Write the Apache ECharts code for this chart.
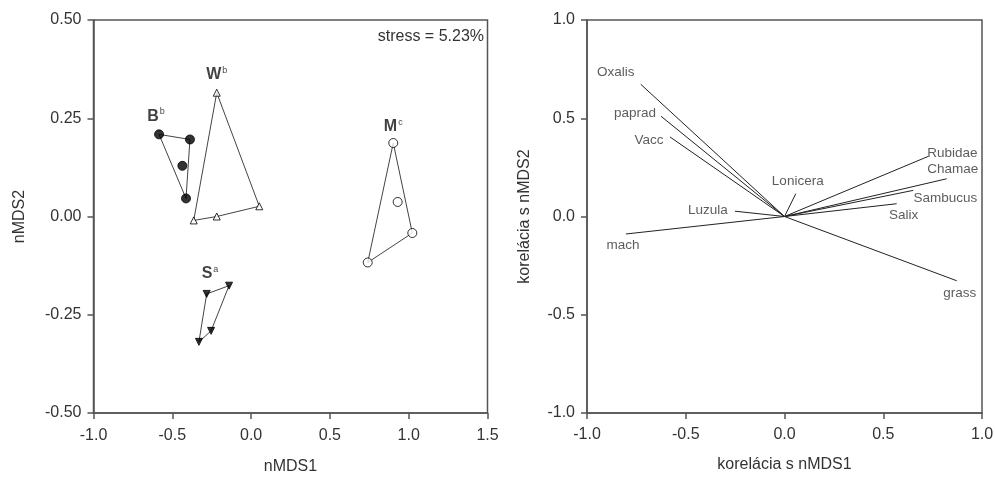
<!DOCTYPE html>
<html><head><meta charset="utf-8">
<script src="https://cdn.jsdelivr.net/npm/echarts@6/dist/echarts.min.js"></script>
<style>html,body{margin:0;padding:0;background:#fff}#c{width:995px;height:477px}</style>
</head><body><div id="c"></div>
<script>
// ---- nMDS ordination (left panel) ----
const groupB = [[-0.584,0.209],[-0.388,0.196],[-0.436,0.129],[-0.413,0.046]];
const hullB = [0,1,3];
const groupW = [[-0.218,0.315],[-0.364,-0.010],[-0.218,0.000],[0.052,0.026]];
const hullW = [0,3,2,1];
const groupM = [[0.902,0.187],[0.930,0.037],[1.023,-0.042],[0.740,-0.117]];
const hullM = [0,2,3];
const groupS = [[-0.282,-0.197],[-0.140,-0.176],[-0.254,-0.291],[-0.331,-0.319]];
const hullS = [0,1,2,3];
const groupNames = ['B','W','M','S'];
const groupLetters = ['b','b','c','a'];
const stressText = 'stress = 5.23%';

// ---- species correlations (right panel) ----
const species = ['Oxalis','paprad','Vacc','Luzula','mach','Lonicera','Rubidae','Chamae','Sambucus','Salix','grass'];
const corr1 = [-0.728,-0.625,-0.580,-0.251,-0.803,0.057,0.728,0.821,0.652,0.568,0.872];
const corr2 = [0.673,0.510,0.405,0.027,-0.089,0.116,0.306,0.192,0.133,0.065,-0.327];

// ---- axes ----
const leftX = {min:-1.0, max:1.5, interval:0.5, name:'nMDS1'};
const leftY = {min:-0.5, max:0.5, interval:0.25, name:'nMDS2'};
const rightX = {min:-1.0, max:1.0, interval:0.5, name:'korelácia s nMDS1'};
const rightY = {min:-1.0, max:1.0, interval:0.5, name:'korelácia s nMDS2'};

// ---- styles ----
const FONT = '"Liberation Sans", Arial, sans-serif';
const AX = '#555';
const TXT = '#333';
const groupStyle = {
  B:{symbol:'circle', size:9, fill:'#000', rotate:0, labelPos:[-3,-18]},
  W:{symbol:'triangle', size:7, fill:'#fff', rotate:0, labelPos:[0,-18]},
  M:{symbol:'circle', size:9, fill:'#fff', rotate:0, labelPos:[0,-16]},
  S:{symbol:'triangle', size:7, fill:'#000', rotate:180, labelPos:[-19,-12]}
};
// label centre relative to vector tip (px)
const speciesLabelPos = {
  Oxalis:[-25,-12], paprad:[-26,-3], Vacc:[-21,3], Luzula:[-27,-1], mach:[-3,11],
  Lonicera:[2,-12], Rubidae:[24,-3], Chamae:[6,-9], Sambucus:[32,8], Salix:[7,12], grass:[3,13]
};

function mkAxis(a, idx, dir, dec, nameGap, margin){
  return {
    type:'value', gridIndex:idx, min:a.min, max:a.max, interval:a.interval,
    name:a.name, nameLocation:'middle', nameGap:nameGap,
    nameTextStyle:{color:TXT, fontSize:16, fontFamily:FONT},
    axisLine:{show:true, onZero:false, lineStyle:{color:AX, width:1.5}},
    axisTick:{show:true, inside:false, length:6, lineStyle:{color:AX, width:1.5}},
    axisLabel:{color:TXT, fontSize:16, fontFamily:FONT, margin:margin,
      formatter:v=>v.toFixed(dec)},
    splitLine:{show:false}
  };
}

const series = [];
const groups = [groupB, groupW, groupM, groupS];
const hulls = [hullB, hullW, hullM, hullS];
groups.forEach((pts, gi)=>{
  const hull = hulls[gi];
  const poly = hull.map(i=>pts[i]).concat([pts[hull[0]]]);
  series.push({type:'line', xAxisIndex:0, yAxisIndex:0, data:poly, symbol:'none',
    lineStyle:{color:'#444', width:1}, silent:true, z:2, animation:false});
  const st = groupStyle[groupNames[gi]];
  series.push({type:'scatter', xAxisIndex:0, yAxisIndex:0, data:pts, symbol:st.symbol,
    symbolSize:st.size, symbolRotate:st.rotate, z:3, animation:false,
    itemStyle:{color:st.fill, borderColor:'#000', borderWidth:1}});
  let top = 0; pts.forEach((p,i)=>{ if(p[1]>pts[top][1]) top=i; });
  series.push({type:'scatter', xAxisIndex:0, yAxisIndex:0, data:[pts[top]], symbolSize:0, z:4,
    animation:false,
    label:{show:true, position:st.labelPos, align:'center', verticalAlign:'middle',
      formatter:'{m|'+groupNames[gi]+'}{s|'+groupLetters[gi]+'}',
      rich:{m:{fontSize:16, fontWeight:'bold', color:'#111', fontFamily:FONT},
            s:{fontSize:9, color:'#111', fontFamily:FONT, verticalAlign:'top', padding:[0,0,9,1]}}}});
});

species.forEach((sp,i)=>{
  series.push({type:'line', xAxisIndex:1, yAxisIndex:1, data:[[0,0],[corr1[i],corr2[i]]],
    symbol:'none', lineStyle:{color:'#222', width:1}, silent:true, animation:false});
});
series.push({type:'scatter', xAxisIndex:1, yAxisIndex:1, symbolSize:0, animation:false,
  data:species.map((sp,i)=>({value:[corr1[i],corr2[i]], name:sp,
    label:{show:true, position:speciesLabelPos[sp], align:'center', verticalAlign:'middle',
      formatter:sp, color:TXT, fontSize:13.5, fontFamily:FONT}}))});

const option = {
  backgroundColor:'#fff',
  animation:false,
  title:{text:stressText, right:511, top:29, padding:0,
    textStyle:{fontSize:16, fontWeight:'normal', color:TXT, fontFamily:FONT}},
  grid:[
    {left:93.5, top:20, width:394, height:393, outerBoundsMode:'none', containLabel:false,
     show:true, borderColor:AX, borderWidth:1.5, backgroundColor:'transparent'},
    {left:587, top:20, width:395, height:393, outerBoundsMode:'none', containLabel:false,
     show:true, borderColor:AX, borderWidth:1.5, backgroundColor:'transparent'}
  ],
  xAxis:[mkAxis(leftX,0,'x',1,46,15), mkAxis(rightX,1,'x',1,44,14)],
  yAxis:[mkAxis(leftY,0,'y',2,66,12), mkAxis(rightY,1,'y',1,54,12)],
  series:series
};
const chart = echarts.init(document.getElementById('c'), null, {renderer:'canvas'});
chart.setOption(option);
</script></body></html>
